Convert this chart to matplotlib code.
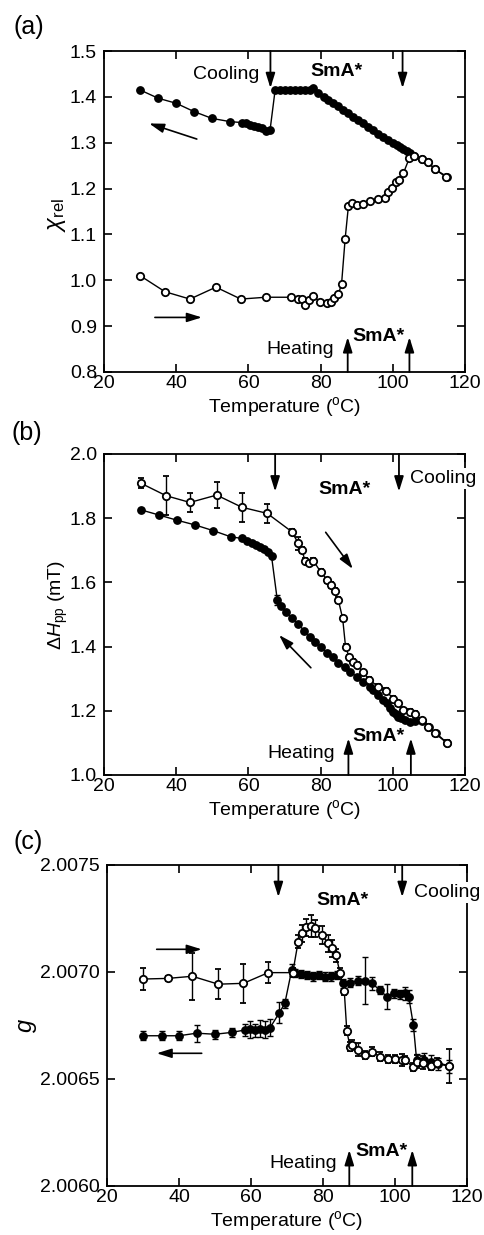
import numpy as np
import matplotlib
matplotlib.use("Agg")
import matplotlib.pyplot as plt

plt.rcParams['font.family'] = ['Liberation Sans', 'DejaVu Sans']
plt.rcParams['mathtext.fontset'] = 'custom'
plt.rcParams['mathtext.rm'] = 'Liberation Sans'
plt.rcParams['mathtext.it'] = 'Liberation Sans:italic'
plt.rcParams['mathtext.bf'] = 'Liberation Sans:bold'

# ---------------- Panel (a): chi_rel ----------------
a_cool_T = [115, 111.7, 109.8, 108.0, 106.0, 104.8, 103.8, 102.9, 102.0, 101.1, 100.1, 98.7, 97.4,
            96.0, 94.6, 93.2, 91.8, 90.4, 89.1, 87.7, 86.3, 84.9, 83.5, 82.1, 80.8, 79.4,
            78.0, 77.1, 75.7, 74.3, 72.9, 71.5, 70.1, 68.8, 67.4,
            66.0, 64.9, 63.7, 62.7, 61.6, 60.4, 59.3, 58.1, 54.9, 49.9, 44.9, 40.0, 35.0, 30.0]
a_cool_chi = [1.226, 1.242, 1.257, 1.264, 1.272, 1.277, 1.282, 1.286, 1.290, 1.295, 1.300, 1.307, 1.313,
              1.320, 1.328, 1.335, 1.342, 1.349, 1.357, 1.364, 1.371, 1.379, 1.386, 1.393, 1.400, 1.408,
              1.419, 1.415, 1.415, 1.415, 1.415, 1.415, 1.415, 1.415, 1.415,
              1.328, 1.326, 1.331, 1.334, 1.336, 1.339, 1.342, 1.344, 1.346, 1.353, 1.368, 1.386, 1.397, 1.415]

a_heat_T = [30.0, 36.9, 43.8, 51.0, 57.9, 64.8, 71.8, 73.6, 74.9, 75.8, 76.8, 78.0, 79.8, 81.7,
            83.0, 83.8, 84.9, 85.8, 86.8, 87.7, 88.8, 90.0, 91.8, 93.7, 96.0, 97.8, 98.6, 99.7,
            100.8, 101.7, 102.9, 104.6, 105.9, 108.0, 109.8, 111.7, 114.6]
a_heat_chi = [1.010, 0.975, 0.959, 0.985, 0.959, 0.963, 0.963, 0.959, 0.959, 0.945, 0.956, 0.966, 0.952, 0.950,
              0.952, 0.961, 0.969, 0.992, 1.091, 1.162, 1.169, 1.164, 1.166, 1.173, 1.177, 1.179, 1.193, 1.202,
              1.215, 1.219, 1.233, 1.267, 1.272, 1.264, 1.257, 1.242, 1.226]

# ---------------- Panel (b): Delta H_pp ----------------
b_cool_T = [115, 112, 110, 108, 106.1, 104.8, 103.5, 102.2, 101.5, 100.8, 100.1, 99.2, 98.3, 97.2, 96.0,
            94.6, 93.7, 91.8, 90.0, 88.1, 86.8, 84.9, 83.5, 81.7, 80.0, 78.4, 77.1, 75.4, 73.8,
            72.0, 70.4, 68.9, 68.0, 66.4, 65.5, 64.3, 63.2, 62.1, 60.9, 59.5, 58.1, 55.1, 50.3,
            45.2, 40.1, 35.2, 30.2]
b_cool_dH = [1.10, 1.13, 1.15, 1.168, 1.169, 1.166, 1.170, 1.177, 1.182, 1.190, 1.197, 1.210, 1.223, 1.235, 1.249,
             1.265, 1.275, 1.291, 1.306, 1.322, 1.337, 1.348, 1.367, 1.381, 1.400, 1.415, 1.431, 1.450, 1.470,
             1.488, 1.509, 1.526, 1.545, 1.682, 1.696, 1.704, 1.711, 1.717, 1.724, 1.730, 1.737, 1.742, 1.761,
             1.779, 1.794, 1.810, 1.826]
b_cool_err = [0.005] * 32 + [0.015] + [0.005] * 14

b_heat_T = [30.2, 37.2, 43.8, 51.2, 58.2, 65.2, 72.0, 73.8, 74.8, 75.7, 76.9, 78.0, 80.0, 81.9,
            83.0, 84.0, 84.9, 86.1, 86.9, 87.9, 88.9, 90.0, 91.8, 93.5, 96.0, 98.1, 100.1, 101.5,
            102.9, 104.8, 106.1, 108.0, 109.8, 111.7, 114.9]
b_heat_dH = [1.909, 1.870, 1.849, 1.872, 1.834, 1.815, 1.758, 1.722, 1.701, 1.667, 1.661, 1.667, 1.633, 1.607,
             1.592, 1.574, 1.545, 1.488, 1.400, 1.367, 1.353, 1.343, 1.320, 1.296, 1.275, 1.262, 1.238, 1.223,
             1.202, 1.197, 1.190, 1.171, 1.150, 1.130, 1.100]
b_heat_err = [0.015, 0.06, 0.03, 0.04, 0.045, 0.03, 0.008, 0.02, 0.008, 0.008, 0.008, 0.008, 0.008, 0.008,
              0.008, 0.008, 0.008, 0.008, 0.008, 0.008, 0.008, 0.008, 0.008, 0.008, 0.008, 0.008, 0.008, 0.008,
              0.008, 0.008, 0.008, 0.008, 0.008, 0.008, 0.008]

# ---------------- Panel (c): g ----------------
c_cool_T = [115, 112, 110, 108, 106, 105.1, 103.8, 102.9, 101.5, 99.6, 97.7, 95.8, 93.5, 91.7, 89.8, 87.5, 85.6,
            84.0, 82.3, 80.6, 78.9, 77.2, 75.5, 73.8, 72.3, 71.3, 69.4, 67.9, 65.3, 63.9, 62.5, 61.1, 59.7,
            58.3, 54.8, 50.0, 44.9, 40.0, 35.2, 29.9]
c_cool_g = [2.00656, 2.00657, 2.00658, 2.00659, 2.006589, 2.006752, 2.006885, 2.006900, 2.006895, 2.006900,
            2.006885, 2.006916, 2.006947, 2.006959, 2.006959, 2.006950, 2.006947,
            2.006985, 2.006980, 2.006978, 2.006985, 2.006980, 2.006985, 2.006990, 2.006995, 2.007009,
            2.006854, 2.006810, 2.006740, 2.006730, 2.006735, 2.006728, 2.006733,
            2.006729, 2.006718, 2.006709, 2.006714, 2.006702, 2.006702, 2.006702]
c_cool_err = [0.00003, 0.00003, 0.00003, 0.00003, 0.00003, 0.00003, 0.00003, 0.00003, 0.00002, 0.00002,
              0.00006, 0.00002, 0.00003, 0.00011, 0.00002, 0.00002, 0.00002,
              0.00002, 0.00002, 0.00002, 0.00002, 0.00002, 0.00002, 0.00002, 0.00002, 0.00003,
              0.00002, 0.00005, 0.00004, 0.00004, 0.00004, 0.00003, 0.00004,
              0.00003, 0.00002, 0.00002, 0.00004, 0.00002, 0.00002, 0.00002]

c_heat_T = [29.9, 36.9, 43.7, 50.9, 57.9, 64.8, 71.6, 73.1, 74.1, 75.3, 76.6, 77.8, 79.6, 81.5, 82.4, 83.6,
            84.7, 85.9, 86.6, 87.5, 88.0, 89.8, 91.7, 93.5, 95.8, 98.1, 100.0, 101.9, 102.8, 104.9,
            106.0, 107.9, 109.9, 111.8, 115.1]
c_heat_g = [2.006967, 2.006970, 2.006980, 2.006943, 2.006947, 2.006997, 2.006997, 2.007142, 2.007181, 2.007209,
            2.007215, 2.007204, 2.007173, 2.007134, 2.007111, 2.007079,
            2.006997, 2.006913, 2.006726, 2.006651, 2.006660, 2.006636, 2.006612, 2.006628, 2.006604, 2.006593,
            2.006593, 2.006589, 2.006589, 2.006557, 2.006581, 2.006576, 2.006561, 2.006576, 2.006561]
c_heat_err = [0.00005, 0.00001, 0.00011, 0.00007, 0.00009, 0.00005, 0.00002, 0.00003, 0.00004, 0.00004,
              0.00005, 0.00004, 0.00004, 0.00004, 0.00004, 0.00003,
              0.00002, 0.00002, 0.00002, 0.00002, 0.00002, 0.00003, 0.00002, 0.00002, 0.00002, 0.00002,
              0.00002, 0.00003, 0.00002, 0.00002, 0.00003, 0.00003, 0.00002, 0.00002, 0.00008]

FS = 14
fig = plt.figure(figsize=(4.84, 12.35), dpi=100)
ax_a = fig.add_axes([0.2149, 0.6988, 0.7459, 0.2599])
ax_b = fig.add_axes([0.2149, 0.3725, 0.7459, 0.2599])
ax_c = fig.add_axes([0.2211, 0.0397, 0.7438, 0.2599])

ms = 5.3
filled_kw = dict(color='k', marker='o', markersize=ms, markerfacecolor='k', markeredgecolor='k',
                 lw=1.0, markeredgewidth=1.0)
open_kw = dict(color='k', marker='o', markersize=ms, markerfacecolor='white', markeredgecolor='k',
               lw=1.0, markeredgewidth=1.3)


def style(ax, ylim, yticks, yfmt):
    ax.set_xlim(20, 120)
    ax.set_ylim(*ylim)
    ax.set_xticks([20, 40, 60, 80, 100, 120])
    ax.set_yticks(yticks)
    ax.set_yticklabels([yfmt.format(v) for v in yticks])
    ax.tick_params(direction='in', top=True, right=True, length=6, width=1.2, labelsize=FS)
    ax.tick_params(axis='x', pad=2)
    ax.tick_params(axis='y', pad=5)
    for s in ax.spines.values():
        s.set_linewidth(1.3)
    ax.set_xlabel(r'Temperature ($^{\rm o}$C)', fontsize=FS, labelpad=2)


def arrow(ax, x0, y0, x1, y1, lw=1.3):
    ax.annotate('', xy=(x1, y1), xytext=(x0, y0), xycoords='data', textcoords='data',
                arrowprops=dict(arrowstyle='-|>,head_width=0.28,head_length=0.9', color='k', lw=lw,
                                shrinkA=0, shrinkB=0), annotation_clip=False)


# ---- (a)
ax = ax_a
ax.plot(a_cool_T, a_cool_chi, **filled_kw, zorder=3)
ax.plot(a_heat_T, a_heat_chi, **open_kw, zorder=4)
style(ax, (0.8, 1.5), [0.8, 0.9, 1.0, 1.1, 1.2, 1.3, 1.4, 1.5], '{:.1f}')
ax.set_ylabel(r'$\chi_{\rm rel}$', fontsize=FS + 3)
ax.yaxis.set_label_coords(-0.10, 0.49)
arrow(ax, 66.1, 1.5, 66.1, 1.419)
arrow(ax, 102.7, 1.5, 102.7, 1.419)
ax.text(62.9, 1.449, 'Cooling', fontsize=FS, ha='right', va='center')
ax.text(84.5, 1.456, 'SmA*', fontsize=FS, ha='center', va='center', fontweight='bold')
arrow(ax, 87.5, 0.8, 87.5, 0.876)
arrow(ax, 104.6, 0.8, 104.6, 0.876)
ax.text(83.6, 0.848, 'Heating', fontsize=FS, ha='right', va='center')
ax.text(95.9, 0.877, 'SmA*', fontsize=FS, ha='center', va='center', fontweight='bold')
arrow(ax, 45.7, 1.308, 32.5, 1.342, lw=1.2)
arrow(ax, 34.1, 0.919, 47.1, 0.919, lw=1.2)
fig.text(29 / 484, 1 - 27 / 1235, '(a)', fontsize=FS + 4, ha='center', va='center')

# ---- (b)
ax = ax_b
ax.errorbar(b_cool_T, b_cool_dH, yerr=b_cool_err, capsize=2.5, elinewidth=1.0, capthick=1.0, **filled_kw, zorder=3)
ax.errorbar(b_heat_T, b_heat_dH, yerr=b_heat_err, capsize=2.5, elinewidth=1.0, capthick=1.0, **open_kw, zorder=4)
style(ax, (1.0, 2.0), [1.0, 1.2, 1.4, 1.6, 1.8, 2.0], '{:.1f}')
ax.set_ylabel(r'$\Delta H_{\rm pp}$ (mT)', fontsize=FS)
ax.yaxis.set_label_coords(-0.095, 0.53)
arrow(ax, 67.4, 2.0, 67.4, 1.883)
arrow(ax, 101.7, 2.0, 101.7, 1.883)
ax.text(104.8, 1.924, 'Cooling', fontsize=FS, ha='left', va='center', zorder=10, clip_on=False,
        bbox=dict(facecolor='white', edgecolor='none', pad=1.5))
ax.text(86.5, 1.888, 'SmA*', fontsize=FS, ha='center', va='center', fontweight='bold')
arrow(ax, 87.7, 1.0, 87.7, 1.114)
arrow(ax, 105.0, 1.0, 105.0, 1.114)
ax.text(84.1, 1.068, 'Heating', fontsize=FS, ha='right', va='center')
ax.text(96.0, 1.12, 'SmA*', fontsize=FS, ha='center', va='center', fontweight='bold')
arrow(ax, 81.4, 1.756, 88.9, 1.642, lw=1.2)
arrow(ax, 77.3, 1.334, 68.5, 1.436, lw=1.2)
fig.text(27 / 484, 1 - 433 / 1235, '(b)', fontsize=FS + 4, ha='center', va='center')

# ---- (c)
ax = ax_c
ax.errorbar(c_cool_T, c_cool_g, yerr=c_cool_err, capsize=2.5, elinewidth=1.0, capthick=1.0, **filled_kw, zorder=3)
ax.errorbar(c_heat_T, c_heat_g, yerr=c_heat_err, capsize=2.5, elinewidth=1.0, capthick=1.0, **open_kw, zorder=4)
style(ax, (2.0060, 2.0075), [2.0060, 2.0065, 2.0070, 2.0075], '{:.4f}')
ax.set_ylabel(r'$g$', fontsize=FS + 3)
ax.yaxis.set_label_coords(-0.19, 0.50)
arrow(ax, 67.6, 2.0075, 67.6, 2.00735)
arrow(ax, 102.0, 2.0075, 102.0, 2.00735)
ax.text(105.3, 2.007371, 'Cooling', fontsize=FS, ha='left', va='center', zorder=10, clip_on=False,
        bbox=dict(facecolor='white', edgecolor='none', pad=1.5))
ax.text(85.4, 2.007336, 'SmA*', fontsize=FS, ha='center', va='center', fontweight='bold')
arrow(ax, 87.3, 2.0060, 87.3, 2.006168)
arrow(ax, 104.8, 2.0060, 104.8, 2.006168)
ax.text(83.8, 2.006106, 'Heating', fontsize=FS, ha='right', va='center')
ax.text(96.2, 2.00616, 'SmA*', fontsize=FS, ha='center', va='center', fontweight='bold')
arrow(ax, 33.8, 2.007106, 46.3, 2.007106, lw=1.2)
arrow(ax, 46.3, 2.00662, 33.8, 2.00662, lw=1.2)
fig.text(28 / 484, 1 - 842 / 1235, '(c)', fontsize=FS + 4, ha='center', va='center')

fig.savefig('out.png', dpi=100)
